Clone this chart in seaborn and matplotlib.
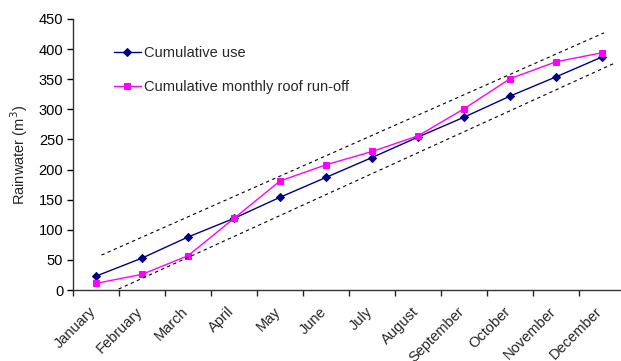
import matplotlib
matplotlib.use("Agg")
import matplotlib.pyplot as plt
import seaborn as sns
import pandas as pd

months = ["January", "February", "March", "April", "May", "June", "July",
          "August", "September", "October", "November", "December"]
cumulative_use = [23, 53, 88, 119, 154, 187, 220, 254, 287, 322, 354, 387]
cumulative_runoff = [11, 26, 57, 119, 181, 208, 230, 256, 301, 351, 379, 394]

# dashed envelope lines (start/end in category units)
upper_x = [0.12, 11.04]
upper_y = [58, 427]
lower_x = [0.36, 11.28]
lower_y = [-3, 377]

sns.set_style("ticks")
plt.rcParams["font.family"] = ["Liberation Sans", "DejaVu Sans"]

df = pd.DataFrame({"idx": range(len(months)), "use": cumulative_use, "runoff": cumulative_runoff})

fig = plt.figure(figsize=(6.21, 3.61), dpi=100)
ax = fig.add_axes([73 / 621, 1 - 290 / 361, 1 - 73 / 621, (290 - 19) / 361])

sns.lineplot(data=df, x="idx", y="use", ax=ax, color="#000080", marker="D",
             markersize=4.5, markeredgecolor="#000080", linewidth=1,
             label="Cumulative use")
sns.lineplot(data=df, x="idx", y="runoff", ax=ax, color="#FF00FF", marker="s",
             markersize=5, markeredgecolor="#FF00FF", linewidth=1,
             label="Cumulative monthly roof run-off")
ax.plot(upper_x, upper_y, color="black", linestyle=(0, (3, 3)), linewidth=0.8)
ax.plot(lower_x, lower_y, color="black", linestyle=(0, (3, 3)), linewidth=0.8)

ax.set_xlim(-0.5, 11.41)
ax.set_ylim(0, 450)
ax.set_yticks(range(0, 451, 50))
ax.set_xticks([i - 0.5 for i in range(12)])
ax.set_xticklabels([])
for i, m in enumerate(months):
    ax.text(i - 0.15, -24, m, rotation=45, ha="right", va="top",
            rotation_mode="anchor", fontsize=10.5, transform=ax.transData)

ax.set_xlabel("")
ax.set_ylabel("Rainwater (m$^3$)", fontsize=10.5, labelpad=6)
ax.tick_params(axis="y", labelsize=10.5, length=4, width=1, colors="black", pad=3)
ax.tick_params(axis="x", length=4, width=1)
for s in ["left", "bottom"]:
    ax.spines[s].set_color("#333333")
    ax.spines[s].set_linewidth(1)
sns.despine(ax=ax)

leg = ax.legend(loc="upper left", bbox_to_anchor=(0.05, 0.95), frameon=False,
                fontsize=10.5, handlelength=1.9, labelspacing=1.4, handletextpad=0.2)

fig.savefig("out.png", dpi=100)
